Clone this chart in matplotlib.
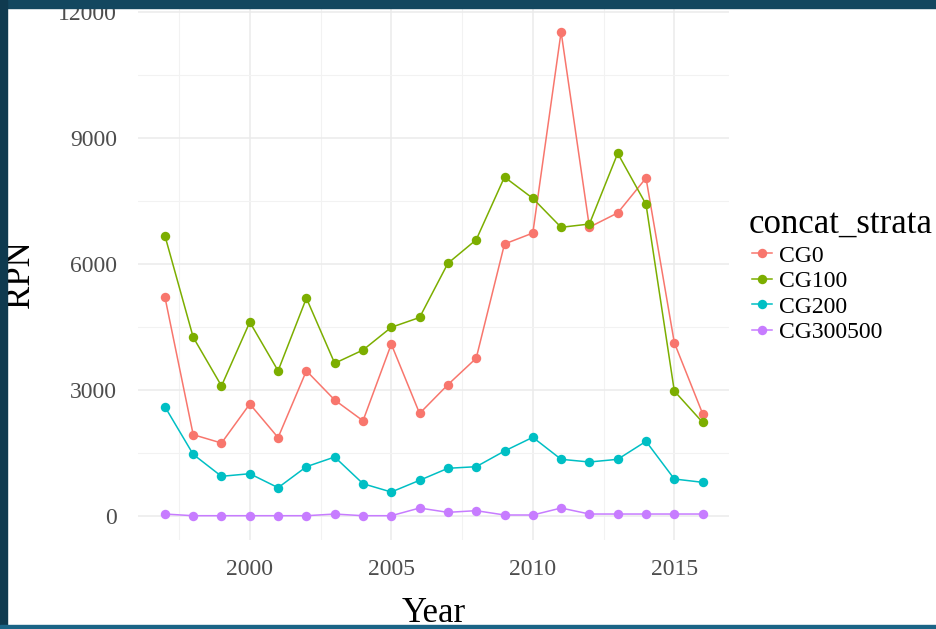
import matplotlib
matplotlib.use("Agg")
import matplotlib.pyplot as plt
from matplotlib.patches import Rectangle
from matplotlib.ticker import FixedLocator

years = list(range(1997, 2017))
cg0 = [5210, 1930, 1730, 2660, 1860, 3450, 2755, 2260, 4085, 2435,
       3120, 3750, 6470, 6730, 11520, 6870, 7210, 8040, 4120, 2430]
cg100 = [6670, 4250, 3090, 4610, 3450, 5180, 3630, 3945, 4486, 4720,
         6010, 6570, 8064, 7557, 6867, 6945, 8629, 7414, 2969, 2223]
cg200 = [2596, 1461, 938, 1000, 667, 1167, 1398, 762, 564, 843,
         1129, 1167, 1540, 1867, 1343, 1279, 1343, 1771, 874, 795]
cg300500 = [40, 0, 0, 0, 0, 0, 40, 0, 0, 183,
            80, 120, 17, 17, 183, 40, 40, 40, 40, 40]
series_names = ["CG0", "CG100", "CG200", "CG300500"]
series_values = [cg0, cg100, cg200, cg300500]
colors = ["#F8766D", "#7CAE00", "#00BFC4", "#C77CFF"]
y_ticks = [0, 3000, 6000, 9000, 12000]
x_ticks = [2000, 2005, 2010, 2015]
legend_title = "concat_strata"

plt.rcParams["font.family"] = ["Liberation Serif", "DejaVu Serif"]

W, H = 937, 629
fig = plt.figure(figsize=(W / 100, H / 100), dpi=100, facecolor="white")

# axes placement in pixels
ax_l, ax_r, ax_t, ax_b = 138, 729.5, 7.7, 539.9
ax = fig.add_axes([ax_l / W, 1 - ax_b / H, (ax_r - ax_l) / W, (ax_b - ax_t) / H])
ax.set_facecolor("white")

for name, vals, c in zip(series_names, series_values, colors):
    ax.plot(years, vals, color=c, lw=1.1, marker="o", ms=6.8,
            markeredgewidth=0, label=name, zorder=3)

xmin, xmax = min(years), max(years)
xr = xmax - xmin
ax.set_xlim(xmin - 0.05 * xr, xmax + 0.05 * xr)
allv = [v for s in series_values for v in s]
ymin, ymax = min(allv), max(allv)
yr = ymax - ymin
ax.set_ylim(ymin - 0.05 * yr, ymax + 0.05 * yr)

ax.set_xticks(x_ticks)
ax.set_yticks(y_ticks)
ax.set_xticklabels([str(t) for t in x_ticks])
ax.set_yticklabels([str(t) for t in y_ticks])
ax.xaxis.set_minor_locator(FixedLocator([1997.5, 2002.5, 2007.5, 2012.5]))
ax.yaxis.set_minor_locator(FixedLocator([1500, 4500, 7500, 10500]))
ax.grid(which="major", color="#EBEBEB", lw=1.1)
ax.grid(which="minor", color="#F2F2F2", lw=0.8)
ax.set_axisbelow(True)
for s in ax.spines.values():
    s.set_visible(False)
ax.tick_params(which="both", length=0)
ax.tick_params(axis="y", labelsize=17, labelcolor="#4D4D4D", pad=15)
ax.tick_params(axis="x", labelsize=17, labelcolor="#4D4D4D", pad=14)

fig.text(21 / W, 1 - 273.8 / H, "RPN", rotation=90, ha="center", va="center",
         fontsize=25, color="black")
fig.text((ax_l + ax_r) / 2 / W, 1 - 622 / H, "Year", ha="center", va="baseline",
         fontsize=25, color="black")

# legend title
fig.text(749 / W, 1 - 232.7 / H, legend_title, ha="left", va="baseline",
         fontsize=25, color="black")
leg = ax.legend(loc="upper left",
                bbox_to_anchor=(752 / W, 1 - 245 / H), bbox_transform=fig.transFigure,
                frameon=False, fontsize=17,
                handlelength=0.85, handletextpad=0.3, labelspacing=0.17,
                borderpad=0, borderaxespad=0)

# slide frame borders drawn on top
fig.add_artist(Rectangle((0, 1 - 8 / H), 1, 8 / H, transform=fig.transFigure,
                         color="#13475F", zorder=10))
fig.add_artist(Rectangle((0, 0), 7 / W, 1, transform=fig.transFigure,
                         color="#0F3A4F", zorder=10))
fig.add_artist(Rectangle((0, 0), 1, 4 / H, transform=fig.transFigure,
                         color="#1B6486", zorder=10))

fig.savefig("out.png", dpi=100, facecolor=fig.get_facecolor())
